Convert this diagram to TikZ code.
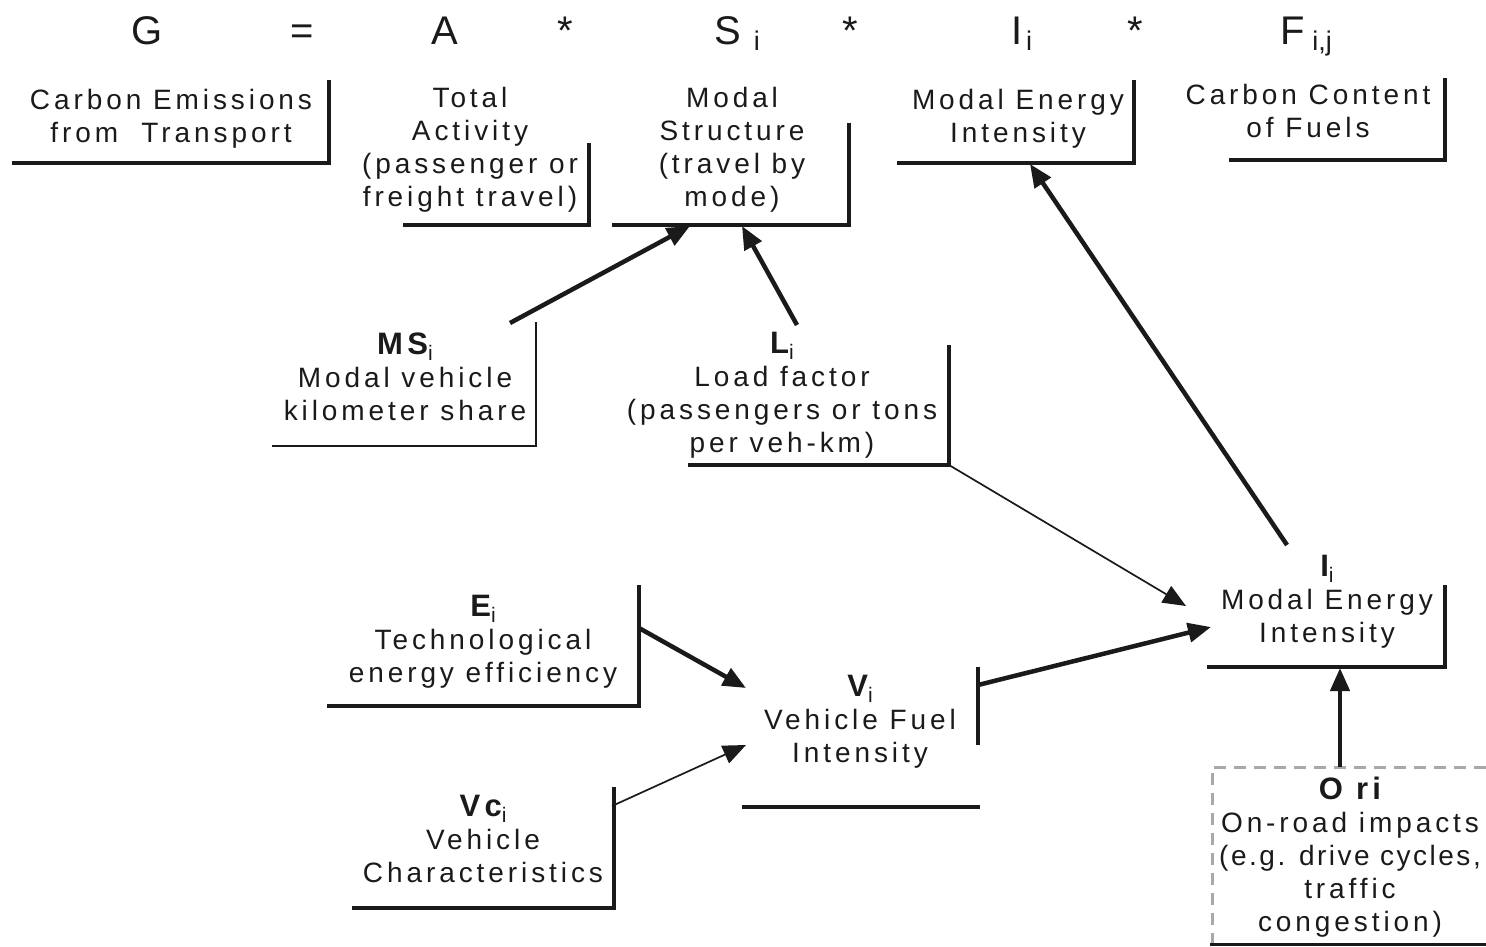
\documentclass[tikz,border=0pt]{standalone}
\usepackage{fontspec}
\setmainfont{Liberation Sans}
\newfontfamily\labfont[LetterSpace=14]{Liberation Sans}
\newfontfamily\labfonttight[LetterSpace=9]{Liberation Sans}
\usetikzlibrary{arrows.meta}
\newcommand\sbs[1]{\raisebox{-6pt}{\fontsize{21}{21}\selectfont\mdseries #1}}
\newcommand\ttl[1]{{\fontsize{31}{33}\selectfont\bfseries #1}}
\newcommand\sbig[1]{\raisebox{-6pt}{\fontsize{27}{27}\selectfont #1}}
\definecolor{ink}{HTML}{1A1A1A}
\definecolor{dashgrey}{HTML}{A8A8A8}
\tikzset{
  lbl/.style={anchor=base, align=center, inner sep=0pt, text=ink,
    font=\labfont\fontsize{28}{33}\selectfont},
  big/.style={anchor=base, inner sep=0pt, text=ink, font=\fontsize{40}{40}\selectfont},
  brk/.style={line width=4pt, draw=ink},
  thinbrk/.style={line width=2.2pt, draw=ink},
  arr/.style={line width=4.5pt, draw=ink, -{Triangle[length=23pt,width=19pt]}},
  tarr/.style={line width=1.7pt, draw=ink, -{Triangle[length=23pt,width=19pt]}},
}
\begin{document}
\begin{tikzpicture}[x=1pt,y=-1pt]
\useasboundingbox (0,0) rectangle (1486,946);
% formula
\node[big] (g) at (147,44) {G};
\node[big] (eq) at (302,44) {=};
\node[big] (a) at (445,44) {A};
\node[big] (m1) at (565,44) {*};
\node[big] (s) at (737,44) {S\hspace{13pt}\sbig{i}};
\node[big] (m2) at (850,44) {*};
\node[big] (ii) at (1022,44) {I\hspace{3pt}\sbig{i}};
\node[big] (m3) at (1135,44) {*};
\node[big] (f) at (1306,44) {F\hspace{8pt}\sbig{i,j}};
% top labels (anchor = baseline of the last line)
\node[lbl] (ce) at (171,142) {Carbon Emissions\\from\ \ Transport};
\node[lbl] (ta) at (470,206) {Total\\Activity\\(passenger or\\freight travel)};
\node[lbl] (mst) at (732,206) {Modal\\Structure\\(travel by\\mode)};
\node[lbl] (mei) at (1018,142) {Modal Energy\\Intensity};
\node[lbl] (ccf) at (1308,137) {Carbon Content\\of Fuels};
\draw[brk] (329,80) |- (12,163);
\draw[brk] (589,143) |- (403,225);
\draw[brk] (849,123) |- (612,225);
\draw[brk] (1134,80) |- (897,163);
\draw[brk] (1445,78) |- (1229,160);
% middle labels
\node[lbl] (msi) at (405,420) {\ttl{MS}\sbs{i}\\Modal vehicle\\kilometer share};
\node[lbl] (li) at (782,452) {\ttl{L}\sbs{i}\\Load factor\\(passengers or tons\\per veh-km)};
\draw[thinbrk] (536,322) |- (272,446);
\draw[brk] (949,345) |- (688,465);
% lower labels
\node[lbl] (ei) at (483,682) {\ttl{E}\sbs{i}\\Technological\\energy efficiency};
\node[lbl] (vi) at (860,762) {\ttl{V}\sbs{i}\\Vehicle Fuel\\Intensity};
\node[lbl] (vci) at (483,882) {\ttl{Vc}\sbs{i}\\Vehicle\\Characteristics};
\node[lbl] (iil) at (1327,642) {\ttl{I}\sbs{i}\\Modal Energy\\Intensity};
\node[lbl] (ori) at (1350,931) {\ttl{O ri}\\On-road impacts\\{\labfonttight(e.g. drive cycles,}\\traffic\\congestion)};
\draw[brk] (639,585) |- (327,706);
\draw[brk] (978,667) -- (978,745);
\draw[brk] (742,807) -- (980,807);
\draw[brk] (614,787) |- (352,908);
\draw[brk] (1445,585) |- (1207,667);
\draw[line width=3pt, draw=dashgrey, dash pattern=on 12pt off 8pt] (1486,767) -- (1212,767) -- (1212,944);
\draw[line width=3pt, draw=ink] (1210,944) -- (1486,944);
% connector end points
\coordinate (msiout) at (510,323);
\coordinate (msin1) at (690,226);
\coordinate (liout) at (797,325);
\coordinate (msin2) at (742,226);
\coordinate (iilout) at (1287,545);
\coordinate (meiin) at (1030,164);
\coordinate (licorner) at (949,465);
\coordinate (iilin1) at (1186,606);
\coordinate (viout) at (978,685);
\coordinate (iilin2) at (1211,627);
\coordinate (eiout) at (639,628);
\coordinate (viin1) at (746,688);
\coordinate (vciout) at (612,806);
\coordinate (viin2) at (746,745);
\coordinate (oriout) at (1340,767);
\coordinate (iilin3) at (1340,668);
\draw[arr] (msiout) -- (msin1);
\draw[arr] (liout) -- (msin2);
\draw[arr] (iilout) -- (meiin);
\draw[tarr] (licorner) -- (iilin1);
\draw[arr] (viout) -- (iilin2);
\draw[arr] (eiout) -- (viin1);
\draw[tarr] (vciout) -- (viin2);
\draw[arr] (oriout) -- (iilin3);
\end{tikzpicture}
\end{document}
